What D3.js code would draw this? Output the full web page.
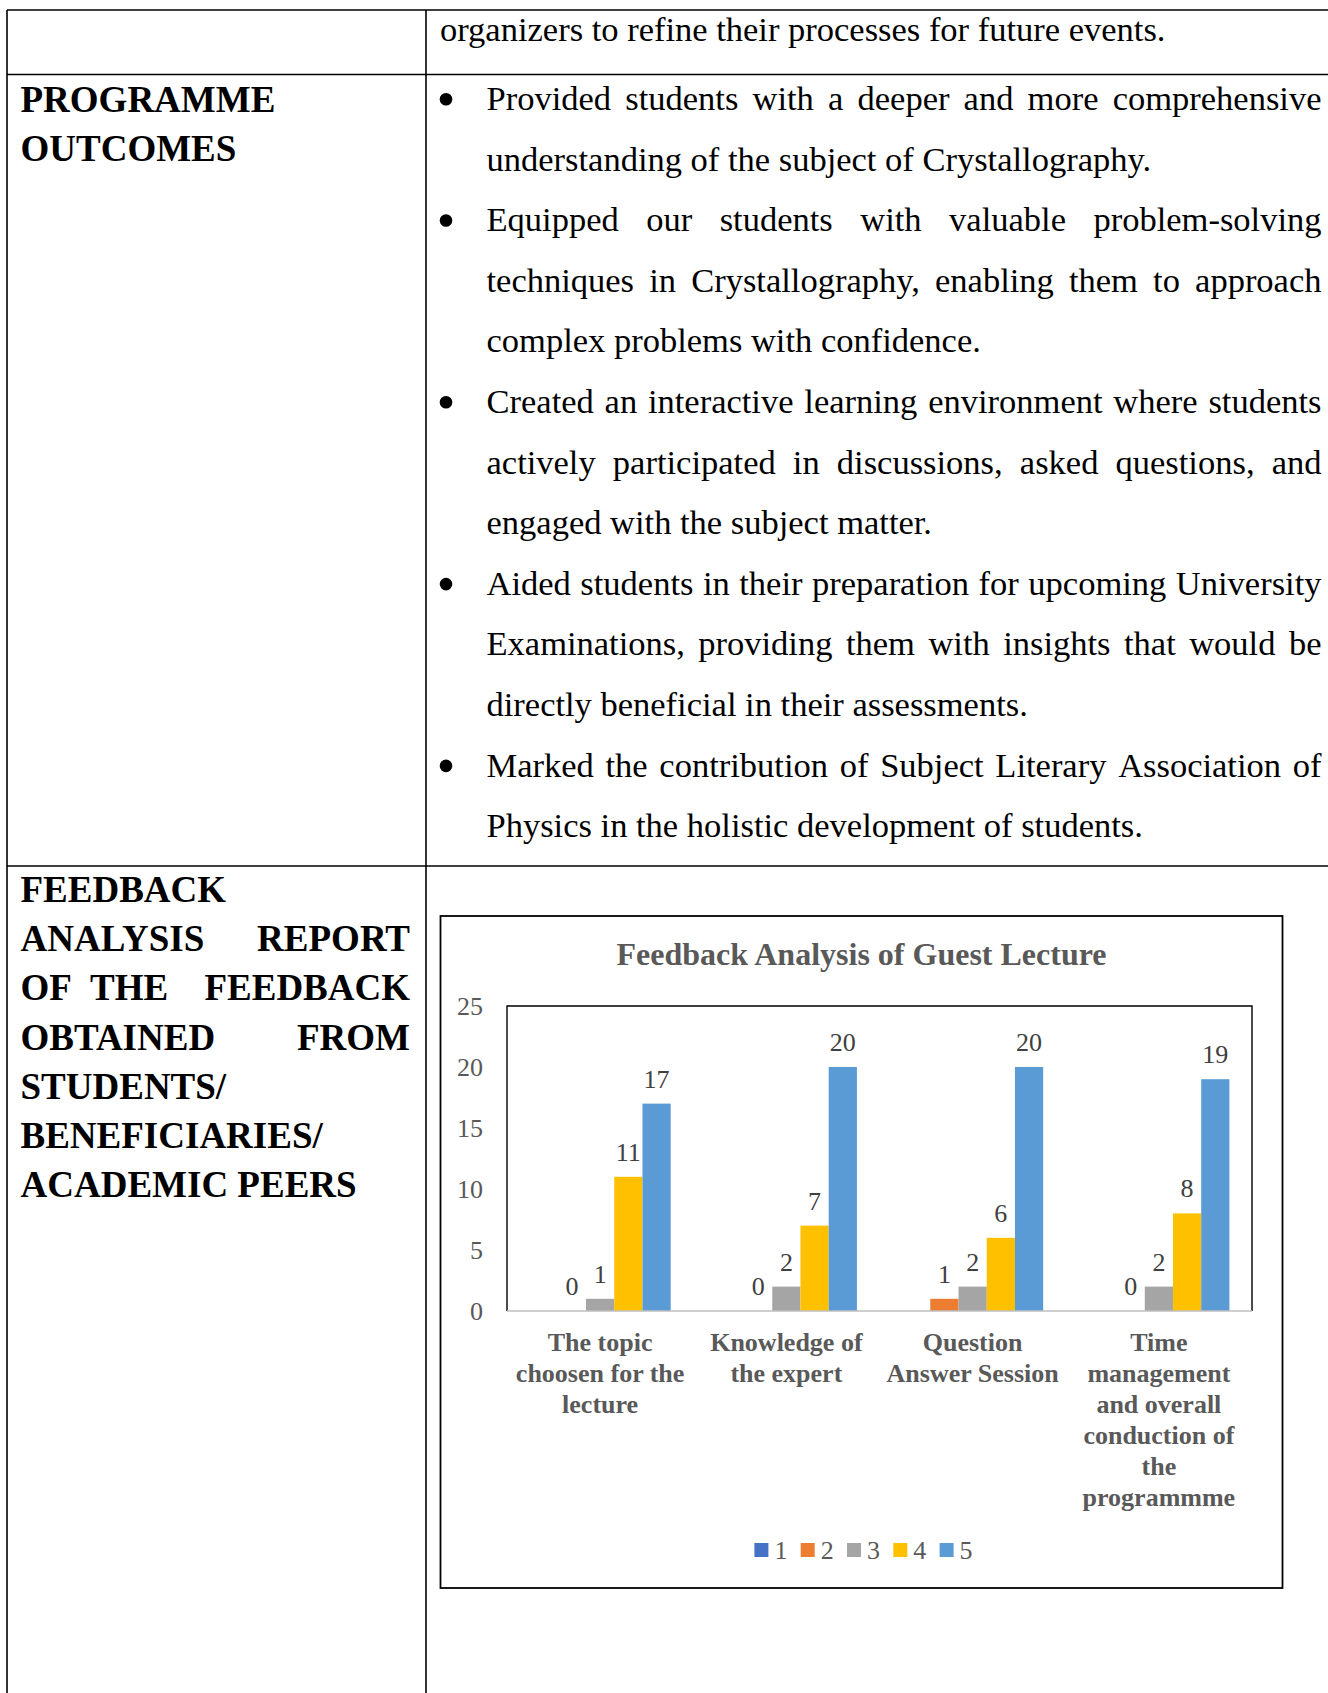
<!DOCTYPE html>
<meta charset="utf-8">
<title>Feedback Analysis of Guest Lecture</title>
<style>

	body { margin: 0; background: #fff; }
	svg { display: block; }

	.body-text { font-family: "Liberation Serif", "Times New Roman", serif; font-size: 34.5px; fill: #000; }
	.head-text { font-family: "Liberation Serif", "Times New Roman", serif; font-size: 37px; font-weight: bold; fill: #000; }
	.rule { stroke: #000; stroke-width: 1.6; }

	.chart-title { font-family: "Liberation Serif", serif; font-size: 32px; font-weight: bold; fill: #595959; }
	.axis text { font-family: "Liberation Serif", serif; font-size: 26px; fill: #595959; }
	.value-label { font-family: "Liberation Serif", serif; font-size: 26px; fill: #404040; }
	.cat-label { font-family: "Liberation Serif", serif; font-size: 26px; font-weight: bold; fill: #595959; }
	.legend text { font-family: "Liberation Serif", serif; font-size: 26px; fill: #595959; }

</style>
<body>

	<script src="https://cdn.jsdelivr.net/npm/d3@7"></script>
	<script>
		// chart data
		var categories = ["The topic choosen for the lecture", "Knowledge of the expert",
			"Question Answer Session", "Time management and overall conduction of the programmme"];
		var categoryLines = [
			["The topic", "choosen for the", "lecture"],
			["Knowledge of", "the expert"],
			["Question", "Answer Session"],
			["Time", "management", "and overall", "conduction of", "the", "programmme"]
		];
		var series = ["1", "2", "3", "4", "5"];
		var rating1 = [null, null, null, null];
		var rating2 = [0, 0, 1, 0];
		var rating3 = [1, 2, 2, 2];
		var rating4 = [11, 7, 6, 8];
		var rating5 = [17, 20, 20, 19];
		var colors = ["#4472C4", "#ED7D31", "#A5A5A5", "#FFC000", "#5B9BD5"];
		var yTicks = [0, 5, 10, 15, 20, 25];
		var chartTitle = "Feedback Analysis of Guest Lecture";

		// table text
		var topCarry = "organizers to refine their processes for future events.";
		var outcomesHead = ["PROGRAMME", "OUTCOMES"];
		var outcomes = [
			["Provided students with a deeper and more comprehensive",
			 "understanding of the subject of Crystallography."],
			["Equipped our students with valuable problem-solving",
			 "techniques in Crystallography, enabling them to approach",
			 "complex problems with confidence."],
			["Created an interactive learning environment where students",
			 "actively participated in discussions, asked questions, and",
			 "engaged with the subject matter."],
			["Aided students in their preparation for upcoming University",
			 "Examinations, providing them with insights that would be",
			 "directly beneficial in their assessments."],
			["Marked the contribution of Subject Literary Association of",
			 "Physics in the holistic development of students."]
		];
		var feedbackHead = ["FEEDBACK", "ANALYSIS REPORT", "OF THE  FEEDBACK", "OBTAINED FROM",
			"STUDENTS/", "BENEFICIARIES/", "ACADEMIC PEERS"];
		var feedbackJustify = [false, true, true, true, false, false, false];

		var W = 1328, H = 1693;

		var svg = d3.select("body").append("svg")
			.attr("width", W)
			.attr("height", H);

		// draw one line of text, spread across x0..x1 when justified
		function textLine(g, str, x0, x1, y, cls, justify) {
			if (!justify) {
				g.append("text").attr("class", cls).attr("x", x0).attr("y", y).text(str);
				return;
			}
			var words = str.split(" ");
			var t = words.map(function(w) {
				return g.append("text").attr("class", cls).attr("y", y).text(w);
			});
			var widths = t.map(function(d) { return d.node().getComputedTextLength(); });
			var gap = (x1 - x0 - d3.sum(widths)) / (words.length - 1);
			var x = x0;
			t.forEach(function(d, i) { d.attr("x", x); x += widths[i] + gap; });
		}

		// table rules
		var colLeft = 7, colDiv = 426, rowTop = 10, row1 = 74.5, row2 = 866;
		var rules = svg.append("g");
		[rowTop, row1, row2].forEach(function(yy) {
			rules.append("line").attr("class", "rule")
				.attr("x1", colLeft).attr("x2", W).attr("y1", yy).attr("y2", yy);
		});
		[colLeft, colDiv].forEach(function(xx) {
			rules.append("line").attr("class", "rule")
				.attr("x1", xx).attr("x2", xx).attr("y1", rowTop).attr("y2", H);
		});

		// table text
		var txt = svg.append("g");
		textLine(txt, topCarry, 440, 1321, 41, "body-text", false);

		outcomesHead.forEach(function(s, i) {
			textLine(txt, s, 20.5, 410, 111.5 + i * 49.3, "head-text", false);
		});

		var lineGap = 60.6, lineNo = 0;
		outcomes.forEach(function(lines) {
			lines.forEach(function(s, i) {
				var yy = 110 + lineNo * lineGap;
				if (i === 0) {
					// bullet mark
					txt.append("circle")
						.attr("cx", 446).attr("cy", yy - 10.7).attr("r", 6.3)
						.attr("fill", "#000");
				}
				textLine(txt, s, 486.5, 1321.5, yy, "body-text", i < lines.length - 1);
				lineNo++;
			});
		});

		feedbackHead.forEach(function(s, i) {
			textLine(txt, s, 20.5, 410, 902 + i * 49.2, "head-text", feedbackJustify[i]);
		});

		// chart
		var box = {left: 440.5, right: 1282.5, top: 916, bottom: 1588};
		var plot = {left: 507, right: 1252, top: 1006, bottom: 1311};

		var chart = svg.append("g");

		chart.append("rect")
			.attr("x", box.left).attr("y", box.top)
			.attr("width", box.right - box.left).attr("height", box.bottom - box.top)
			.attr("fill", "#fff").attr("stroke", "#000").attr("stroke-width", 1.8);

		chart.append("text")
			.attr("class", "chart-title")
			.attr("x", (box.left + box.right) / 2)
			.attr("y", 965)
			.attr("text-anchor", "middle")
			.text(chartTitle);

		var x0 = d3.scaleBand().domain(categories).range([plot.left, plot.right]);
		var x1 = d3.scaleBand().domain(series).range([0, x0.bandwidth()]).paddingOuter(0.8);
		var y = d3.scaleLinear().domain([0, 25]).range([plot.bottom, plot.top]);

		var allValues = [rating1, rating2, rating3, rating4, rating5];
		var barData = [];
		series.forEach(function(s, i) {
			categories.forEach(function(c, j) {
				var v = allValues[i][j];
				if (v !== null) barData.push({series: s, cat: c, value: v, color: colors[i]});
			});
		});

		// plot frame (black top/left/right)
		chart.append("path")
			.attr("d", "M" + plot.left + "," + plot.bottom + "V" + plot.top + "H" + plot.right + "V" + plot.bottom)
			.attr("fill", "none").attr("stroke", "#000").attr("stroke-width", 1.4);

		chart.append("g").selectAll("rect")
			.data(barData)
			.enter().append("rect")
			.attr("x", function(d) { return x0(d.cat) + x1(d.series); })
			.attr("y", function(d) { return y(d.value); })
			.attr("width", x1.bandwidth())
			.attr("height", function(d) { return y(0) - y(d.value); })
			.attr("fill", function(d) { return d.color; });

		chart.append("g").selectAll("text")
			.data(barData)
			.enter().append("text")
			.attr("class", "value-label")
			.attr("x", function(d) { return x0(d.cat) + x1(d.series) + x1.bandwidth() / 2; })
			.attr("y", function(d) { return y(d.value) - 16; })
			.attr("text-anchor", "middle")
			.text(function(d) { return d.value; });

		// x axis line
		chart.append("line")
			.attr("x1", plot.left).attr("x2", plot.right)
			.attr("y1", y(0)).attr("y2", y(0))
			.attr("stroke", "#BFBFBF").attr("stroke-width", 1.6);

		// y axis labels
		var yAxis = chart.append("g")
			.attr("class", "axis")
			.attr("transform", "translate(" + plot.left + ",0)")
			.call(d3.axisLeft(y).tickValues(yTicks).tickSize(0).tickPadding(24));
		yAxis.select(".domain").remove();
		yAxis.selectAll("text").attr("font-family", null).attr("font-size", null).attr("fill", null);

		// category labels
		categories.forEach(function(c, j) {
			var t = chart.append("text")
				.attr("class", "cat-label")
				.attr("text-anchor", "middle");
			categoryLines[j].forEach(function(line, k) {
				t.append("tspan")
					.attr("x", x0(c) + x0.bandwidth() / 2)
					.attr("y", 1351 + k * 31)
					.text(line);
			});
		});

		// legend
		var legendStep = 46.3, legendSw = 14;
		var legendWidth = (series.length - 1) * legendStep + 29;
		var legendStart = (box.left + box.right) / 2 - legendWidth / 2;
		var legend = chart.append("g").attr("class", "legend")
			.selectAll("g")
			.data(series)
			.enter().append("g")
			.attr("transform", function(d, i) {
				return "translate(" + (legendStart + i * legendStep) + ",1543)";
			});
		legend.append("rect")
			.attr("width", legendSw).attr("height", legendSw)
			.attr("fill", function(d, i) { return colors[i]; });
		legend.append("text")
			.attr("x", legendSw + 6)
			.attr("y", 16)
			.text(function(d) { return d; });

	</script>

</body>
